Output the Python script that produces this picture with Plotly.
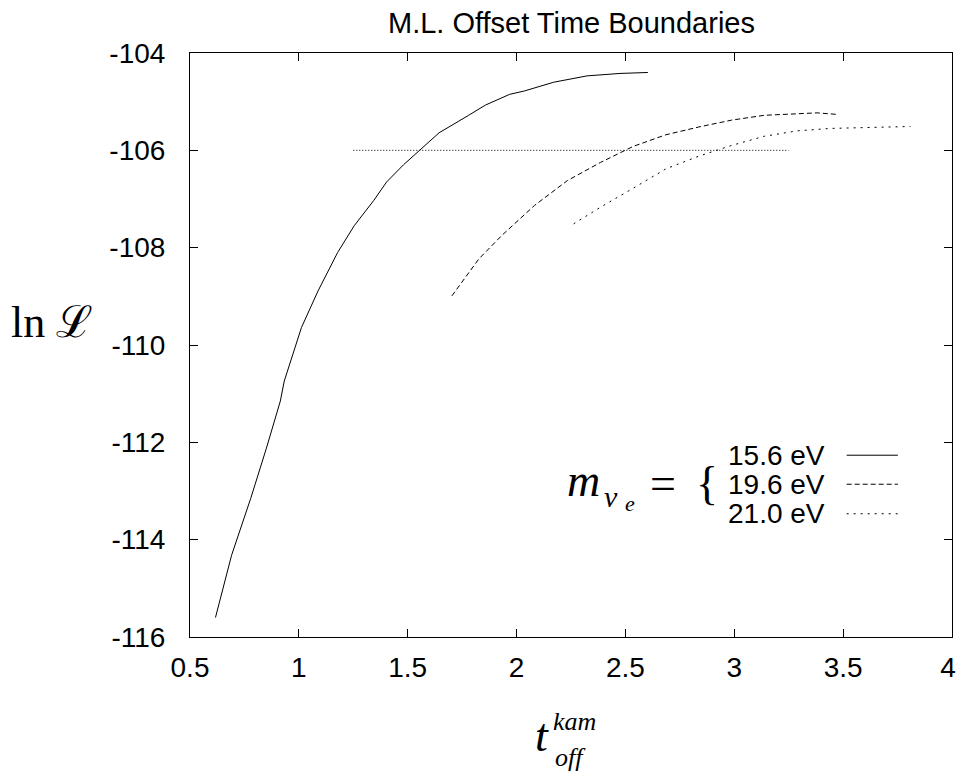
import plotly.graph_objects as go

# ---- data ----
x_156 = [0.617, 0.691, 0.779, 0.851, 0.915, 0.933, 1.012, 1.088, 1.178, 1.254, 1.344,
         1.403, 1.48, 1.554, 1.644, 1.78, 1.857, 1.968, 2.036, 2.171, 2.324, 2.475, 2.603]
y_156 = [-115.6, -114.32, -113.15, -112.12, -111.15, -110.74, -109.64, -108.89, -108.10,
         -107.55, -107.03, -106.65, -106.3, -106.0, -105.64, -105.28, -105.07, -104.85,
         -104.78, -104.60, -104.47, -104.42, -104.40]

x_196 = [1.703, 1.781, 1.827, 1.932, 2.083, 2.234, 2.385, 2.535, 2.686, 2.837, 2.987,
         3.138, 3.289, 3.38, 3.467]
y_196 = [-108.99, -108.5, -108.23, -107.75, -107.13, -106.62, -106.25, -105.92, -105.68,
         -105.52, -105.38, -105.28, -105.24, -105.23, -105.26]

x_210 = [2.262, 2.385, 2.535, 2.686, 2.837, 2.987, 3.138, 3.289, 3.44, 3.59, 3.809]
y_210 = [-107.51, -107.17, -106.78, -106.38, -106.12, -105.90, -105.71, -105.60, -105.55,
         -105.53, -105.51]

x_bound = [1.25, 3.25]
y_bound = [-106.0, -106.0]

x_ticks = [0.5, 1, 1.5, 2, 2.5, 3, 3.5, 4]
x_ticktext = ["0.5", "1", "1.5", "2", "2.5", "3", "3.5", "4\u00a0"]
y_ticks = [-116, -114, -112, -110, -108, -106, -104]
y_ticktext = ["-116", "-114", "-112", "-110", "-108", "-106", "-104"]

legend_labels = ["15.6 eV", "19.6 eV", "21.0 eV"]
title_text = "M.L. Offset Time Boundaries"

# ---- layout geometry (window pixels; page body has an 8px margin) ----
OFF = 8
W, H = 976 - 2 * OFF, 783 - 2 * OFF
L, R, T, B = 190, 964, 53, 636.7


def px(x):
    return (x - L) / (R - L)


def py(y):
    return (B - y) / (B - T)


SANS = "Liberation Sans, Arial, Helvetica, sans-serif"
SERIF = "Liberation Serif, DejaVu Serif, Times New Roman, serif"

styles = [dict(dash="solid"), dict(dash="5px,3px"), dict(dash="2px,5px")]

fig = go.Figure()
for xs, ys, st, name in [(x_156, y_156, styles[0], legend_labels[0]),
                         (x_196, y_196, styles[1], legend_labels[1]),
                         (x_210, y_210, styles[2], legend_labels[2])]:
    fig.add_trace(go.Scatter(x=xs, y=ys, mode="lines", name=name, showlegend=False,
                             line=dict(color="black", width=1, **st)))
fig.add_trace(go.Scatter(x=x_bound, y=y_bound, mode="lines", showlegend=False,
                         line=dict(color="black", width=1, dash="1px,2px")))

axis_common = dict(showline=True, linecolor="black", linewidth=1, mirror="ticks",
                   ticks="inside", ticklen=8, tickcolor="black", tickwidth=1,
                   showgrid=False, zeroline=False,
                   tickfont=dict(family=SANS, size=28, color="black"))

fig.update_xaxes(range=[0.5, 4], tickvals=x_ticks, ticktext=x_ticktext,
                 ticklabelstandoff=5, ticklabeloverflow="allow", **axis_common)
fig.update_yaxes(range=[-116, -104], tickvals=y_ticks, ticktext=y_ticktext,
                 ticklabelstandoff=18, **axis_common)

ann = []
# title
ann.append(dict(text=title_text, x=px(577), y=py(23), xref="paper", yref="paper",
                showarrow=False, xanchor="center", yanchor="middle",
                font=dict(family=SANS, size=29, color="black")))
# y label
ann.append(dict(text="ln ℒ", x=px(50), y=py(322), xref="paper", yref="paper",
                showarrow=False, xanchor="center", yanchor="middle",
                font=dict(family=SERIF, size=44, color="black")))
# x label t^{kam}_{off}
ann.append(dict(text="<i>t</i>", x=px(548), y=py(735), xref="paper", yref="paper",
                showarrow=False, xanchor="center", yanchor="middle",
                font=dict(family=SERIF, size=46, color="black")))
ann.append(dict(text="<i>kam</i>", x=px(557), y=py(721), xref="paper", yref="paper",
                showarrow=False, xanchor="left", yanchor="middle",
                font=dict(family=SERIF, size=26, color="black")))
ann.append(dict(text="<i>off</i>", x=px(559), y=py(757), xref="paper", yref="paper",
                showarrow=False, xanchor="left", yanchor="middle",
                font=dict(family=SERIF, size=26, color="black")))
# legend math label m_{nu_e} = {
ann.append(dict(text="<i>m</i>", x=px(590), y=py(480), xref="paper", yref="paper",
                showarrow=False, xanchor="center", yanchor="middle",
                font=dict(family=SERIF, size=46, color="black")))
ann.append(dict(text="<i>ν</i>", x=px(618), y=py(496), xref="paper", yref="paper",
                showarrow=False, xanchor="center", yanchor="middle",
                font=dict(family=SERIF, size=30, color="black")))
ann.append(dict(text="<i>e</i>", x=px(637), y=py(503), xref="paper", yref="paper",
                showarrow=False, xanchor="center", yanchor="middle",
                font=dict(family=SERIF, size=22, color="black")))
ann.append(dict(text="=", x=px(670), y=py(483), xref="paper", yref="paper",
                showarrow=False, xanchor="center", yanchor="middle",
                font=dict(family=SERIF, size=46, color="black")))
ann.append(dict(text="{", x=px(715), y=py(483), xref="paper", yref="paper",
                showarrow=False, xanchor="center", yanchor="middle",
                font=dict(family=SERIF, size=46, color="black")))

legend_y = [455, 484, 513.5]
for lab, ly, st in zip(legend_labels, legend_y, styles):
    ann.append(dict(text=lab, x=px(837), y=py(ly), xref="paper", yref="paper",
                    showarrow=False, xanchor="right", yanchor="middle",
                    font=dict(family=SANS, size=28, color="black")))

shapes = []
for ly, st in zip(legend_y, styles):
    shapes.append(dict(type="line", xref="paper", yref="paper",
                       x0=px(857), x1=px(909), y0=py(ly), y1=py(ly),
                       line=dict(color="black", width=1, **st)))

fig.update_layout(width=W, height=H,
                  margin=dict(l=L - OFF, r=W - (R - OFF), t=T - OFF, b=H - (B - OFF), pad=0),
                  paper_bgcolor="white", plot_bgcolor="white",
                  annotations=ann, shapes=shapes, showlegend=False)

fig.write_html("out.html", config={"displayModeBar": False})
